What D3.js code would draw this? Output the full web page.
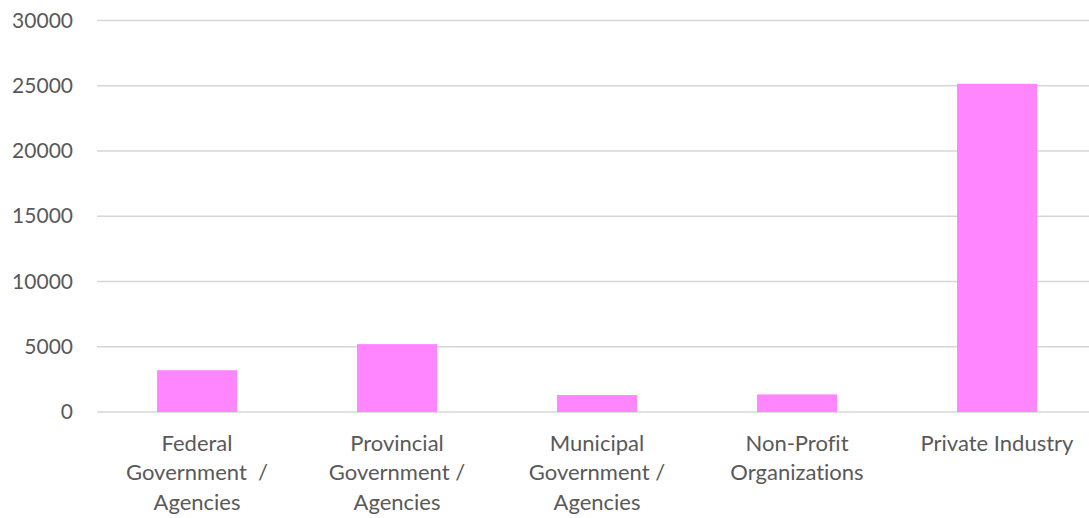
<!DOCTYPE html>
<html>
<head>
<meta charset="utf-8">
<script src="https://cdn.jsdelivr.net/npm/d3@7"></script>
<style>
  html, body { margin: 0; padding: 0; background: #fff; }
  svg { display: block; }
  text { font-family: Lato, "Open Sans", sans-serif; fill: #595959; font-variant-ligatures: none; font-feature-settings: "liga" 0, "clig" 0; }
</style>
</head>
<body>
<svg id="chart" width="1089" height="518"></svg>
<script>
// Employment by sector
const categories = [
  ["Federal", "Government  /", "Agencies"],
  ["Provincial", "Government /", "Agencies"],
  ["Municipal", "Government /", "Agencies"],
  ["Non-Profit", "Organizations"],
  ["Private Industry"]
];
const values = [3200, 5200, 1300, 1350, 25150];
const yTicks = [0, 5000, 10000, 15000, 20000, 25000, 30000];

const svg = d3.select("#chart");
const plot = { left: 97, right: 1097, top: 20.5, bottom: 412 };

const keys = categories.map((c, i) => i);
const x = d3.scaleBand().domain(keys).range([plot.left, plot.right]).paddingInner(0.6).paddingOuter(0.3);
const y = d3.scaleLinear().domain([0, 30000]).range([plot.bottom, plot.top]);

// Horizontal gridlines
svg.append("g")
  .selectAll("line")
  .data(yTicks)
  .join("line")
  .attr("x1", plot.left)
  .attr("x2", plot.right)
  .attr("y1", d => y(d))
  .attr("y2", d => y(d))
  .attr("stroke", "#d6d6d6")
  .attr("stroke-width", 1.4);

// Y axis labels
const yAxis = svg.append("g")
  .attr("transform", `translate(${plot.left - 24},0)`)
  .call(d3.axisLeft(y).tickValues(yTicks).tickSize(0).tickPadding(0).tickFormat(d3.format("d")));
yAxis.select(".domain").remove();
yAxis.selectAll("text")
  .attr("font-size", 21)
  .attr("font-family", "Lato, 'Open Sans', sans-serif")
  .attr("fill", "#595959");

// Bars
svg.append("g")
  .selectAll("rect")
  .data(values)
  .join("rect")
  .attr("x", (d, i) => x(i))
  .attr("width", x.bandwidth())
  .attr("y", d => y(d))
  .attr("height", d => y(0) - y(d))
  .attr("fill", "#ff86ff");

// Category labels
const xl = svg.append("g");
categories.forEach((lines, i) => {
  const cx = x(i) + x.bandwidth() / 2;
  const t = xl.append("text")
    .attr("x", cx)
    .attr("y", 443)
    .attr("text-anchor", "middle")
    .attr("font-size", 22)
    .attr("xml:space", "preserve")
    .style("white-space", "pre");
  lines.forEach((ln, j) => {
    t.append("tspan")
      .attr("x", cx)
      .attr("y", 443 + j * 29.7)
      .attr("dy", "0.35em")
      .text(ln);
  });
});
</script>
</body>
</html>
